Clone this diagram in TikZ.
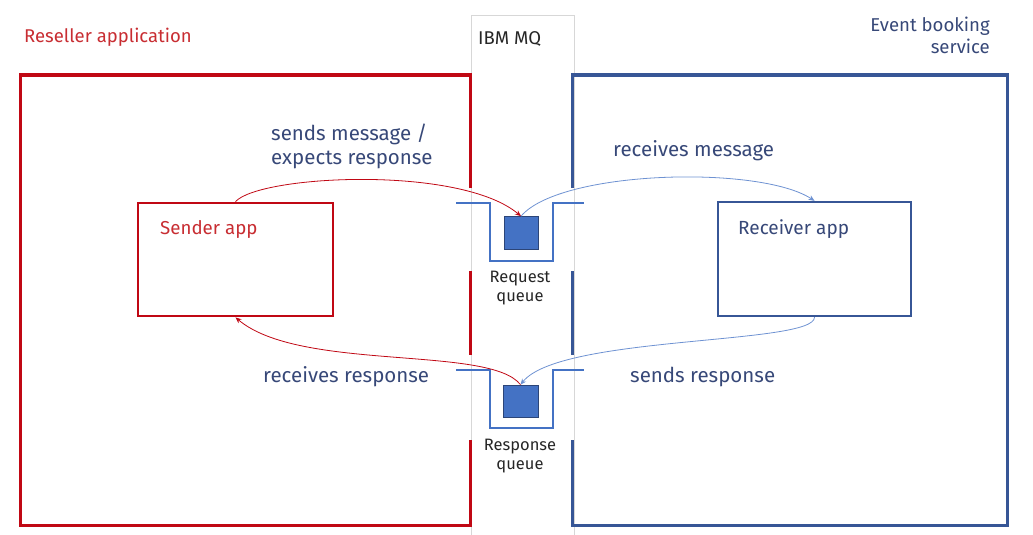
\documentclass[tikz,border=0pt]{standalone}
\usepackage{fontspec}
\setmainfont{Fira Sans}
\usetikzlibrary{arrows.meta}

\definecolor{resred}{RGB}{192,8,20}
\definecolor{restext}{RGB}{200,45,50}
\definecolor{evtblue}{RGB}{55,86,150}
\definecolor{evttext}{RGB}{55,72,120}
\definecolor{qblue}{RGB}{68,114,196}
\definecolor{flowblue}{RGB}{110,146,210}
\definecolor{mqgray}{RGB}{215,215,215}

\tikzset{
  appbox/.style={draw, line width=2.8pt, fill=white, inner sep=0pt},
  queuesq/.style={draw=evtblue!80!black, line width=0.6pt, fill=qblue, inner sep=0pt,
    minimum width=34pt, minimum height=33pt},
  flowlabel/.style={text=evttext, font=\fontsize{20.5}{24}\selectfont, inner sep=0pt},
  qlabel/.style={text=black!85, font=\fontsize{16.5}{19}\selectfont, align=center, inner sep=0pt},
  redflow/.style={draw=resred, line width=0.8pt, -{Stealth[length=6pt,width=5pt]}},
  blueflow/.style={draw=flowblue, line width=0.8pt, -{Stealth[length=6pt,width=5pt]}}
}

\begin{document}
\begin{tikzpicture}[x=1pt,y=-1pt]
  \useasboundingbox (0,0) rectangle (1033,535);

  % IBM MQ column
  \draw[mqgray, line width=0.8pt] (471,535) -- (471,15) -- (574,15) -- (574,535);
  \node[anchor=west, text=black!85, font=\fontsize{18.5}{20}\selectfont, inner sep=0pt] (mq) at (478,39) {IBM MQ};

  % Reseller application frame, broken where the queues pass
  \draw[resred, line width=3pt] (470,188) -- (470,75) -- (20,75) -- (20,525) -- (470,525) -- (470,440);
  \draw[resred, line width=3pt] (470,271) -- (470,355);
  \node[anchor=west, text=restext, font=\fontsize{18.5}{20}\selectfont, inner sep=0pt] (reseller) at (24,37) {Reseller application};

  % Event booking service frame
  \draw[evtblue, line width=3pt] (572,188) -- (572,75) -- (1007,75) -- (1007,525) -- (572,525) -- (572,440);
  \draw[evtblue, line width=3pt] (572,271) -- (572,355);
  \node[anchor=north east, align=right, text=evttext, font=\fontsize{18.6}{22}\selectfont, inner sep=0pt] (event) at (990,17) {Event booking\\service};

  % Applications
  \node[appbox, draw=resred, minimum width=195pt, minimum height=113pt] (sender) at (235.5,259.5) {};
  \node[anchor=west, text=restext, font=\fontsize{18.7}{20}\selectfont, inner sep=0pt] (senderlbl) at (160,229) {Sender app};
  \node[appbox, draw=evtblue, line width=2.3pt, minimum width=193pt, minimum height=114pt] (receiver) at (814.5,259) {};
  \node[anchor=west, text=evttext, font=\fontsize{19}{20}\selectfont, inner sep=0pt] (receiverlbl) at (738,229) {Receiver app};

  % Queues
  \foreach \y in {203,370}
    \draw[qblue, line width=1.6pt] (456,\y) -- (490,\y) -- (490,\y+58) -- (553,\y+58) -- (553,\y) -- (584,\y);
  \node[queuesq] (reqsq) at (521,233) {};
  \node[queuesq, minimum width=35pt, minimum height=32pt] (ressq) at (520.5,401) {};
  \node[qlabel, anchor=north] (reqlbl) at (520,271) {Request\\queue};
  \node[qlabel, anchor=north] (reslbl) at (520,439) {Response\\queue};

  % Message flows
  \draw[redflow] (sender.north) .. controls (260,175) and (460,165) .. (reqsq.north);
  \draw[blueflow] (reqsq.north) .. controls (560,170) and (760,165) .. (receiver.north);
  \draw[blueflow] (receiver.south) .. controls (815,345) and (560,335) .. (ressq.north);
  \draw[redflow] (ressq.north) .. controls (490,345) and (300,372) .. (sender.south);

  % Flow labels
  \node[flowlabel, anchor=north west, align=left] (sendlbl) at (271,124) {sends message /\\expects response};
  \node[flowlabel, anchor=west] (recvmsglbl) at (613,151) {receives message};
  \node[flowlabel, anchor=west] (recvreslbl) at (263,377) {receives response};
  \node[flowlabel, anchor=west] (sendreslbl) at (630,377) {sends response};
\end{tikzpicture}
\end{document}
